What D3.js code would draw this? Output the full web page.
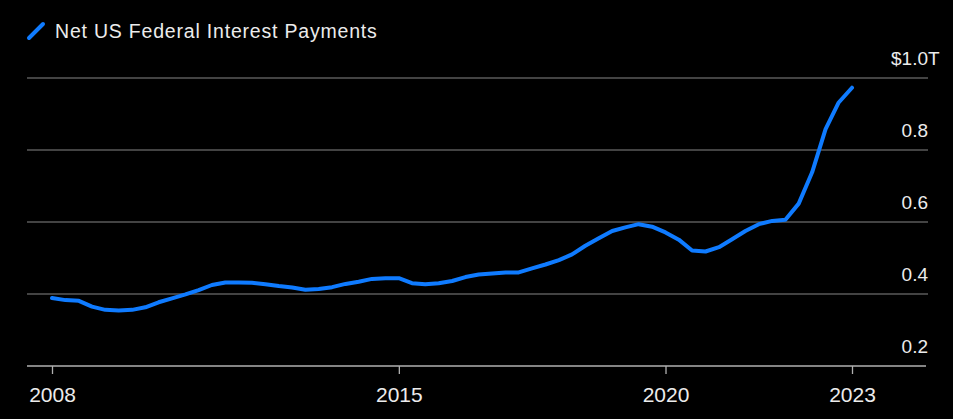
<!DOCTYPE html>
<html>
<head>
<meta charset="utf-8">
<script src="https://cdn.jsdelivr.net/npm/d3@7"></script>
<style>
  body { margin: 0; background: #000; }
  svg { display: block; }
  text { font-family: "Liberation Sans", Arial, Helvetica, sans-serif; fill: #ececec; }
</style>
</head>
<body>
<svg id="chart" width="953" height="419"></svg>
<script>
// quarterly series, first point = Q3 2008
const firstQuarter = "2008-07-01";
const payments = [
  0.389, 0.383, 0.381, 0.365, 0.356, 0.354, 0.356, 0.363, 0.377, 0.388,
  0.399, 0.411, 0.425, 0.432, 0.432, 0.431, 0.427, 0.422, 0.418, 0.412,
  0.414, 0.419, 0.428, 0.434, 0.442, 0.444, 0.444, 0.430, 0.427, 0.430,
  0.436, 0.447, 0.454, 0.457, 0.460, 0.460, 0.471, 0.482, 0.494, 0.510,
  0.534, 0.555, 0.575, 0.585, 0.594, 0.587, 0.571, 0.551, 0.521, 0.518,
  0.530, 0.552, 0.575, 0.594, 0.603, 0.606, 0.651, 0.738, 0.858, 0.932,
  0.973
];
const yTicks = [0.2, 0.4, 0.6, 0.8, 1.0];
const middleYears = [2015, 2020];
const seriesName = "Net US Federal Interest Payments";

const svg = d3.select("#chart");
const blue = "#0f7bff";

const start = new Date(firstQuarter + "T00:00:00Z");
const data = payments.map((v, i) => ({date: d3.utcMonth.offset(start, 3 * i), value: v}));

const x = d3.scaleUtc()
  .domain(d3.extent(data, d => d.date))
  .range([52, 852]);
const y = d3.scaleLinear().domain([0.2, 1.0]).range([366, 78]);

// gridlines (skip the baseline, drawn separately)
svg.append("g")
  .selectAll("line")
  .data(yTicks.filter(t => t > 0.2))
  .join("line")
  .attr("x1", 27).attr("x2", 928)
  .attr("y1", d => y(d)).attr("y2", d => y(d))
  .attr("stroke", "#5a5a5a").attr("stroke-width", 1.3);

// y labels, sitting above their gridline
const yLab = svg.append("g").attr("font-size", 19).attr("text-anchor", "end");
yLab.selectAll("text")
  .data(yTicks)
  .join("text")
  .attr("x", 928)
  .attr("y", d => y(d) - 13)
  .text(d => d === 1 ? "$1.0" : d3.format(".1f")(d));
svg.append("text")
  .attr("x", 928).attr("y", y(1.0) - 13)
  .attr("font-size", 19)
  .text("T");

// x axis
const xTicks = [data[0].date, ...middleYears.map(yr => new Date(Date.UTC(yr, 0, 1))), data[data.length - 1].date];
const xAxis = d3.axisBottom(x)
  .tickValues(xTicks)
  .tickSize(8)
  .tickPadding(13)
  .tickFormat(d3.utcFormat("%Y"));

const gx = svg.append("g")
  .attr("transform", `translate(0,${y(0.2)})`)
  .call(xAxis);
gx.select(".domain").remove();
gx.selectAll(".tick line").attr("stroke", "#b0b0b0").attr("stroke-width", 1.3);
gx.selectAll(".tick text")
  .attr("font-size", 21)
  .attr("font-family", "Liberation Sans, Arial, sans-serif")
  .attr("fill", "#ececec");
gx.append("line")
  .attr("x1", 27).attr("x2", 926)
  .attr("stroke", "#b0b0b0").attr("stroke-width", 1.5);

// the series
const line = d3.line()
  .x(d => x(d.date))
  .y(d => y(d.value));

svg.append("path")
  .datum(data)
  .attr("fill", "none")
  .attr("stroke", blue)
  .attr("stroke-width", 4)
  .attr("stroke-linejoin", "round")
  .attr("stroke-linecap", "round")
  .attr("d", line);

// legend
const legend = svg.append("g");
legend.append("line")
  .attr("x1", 29).attr("y1", 38).attr("x2", 43).attr("y2", 24)
  .attr("stroke", blue).attr("stroke-width", 4).attr("stroke-linecap", "round");
legend.append("text")
  .attr("x", 55).attr("y", 38)
  .attr("font-size", 19.5)
  .attr("letter-spacing", 0.8)
  .text(seriesName);
</script>
</body>
</html>
